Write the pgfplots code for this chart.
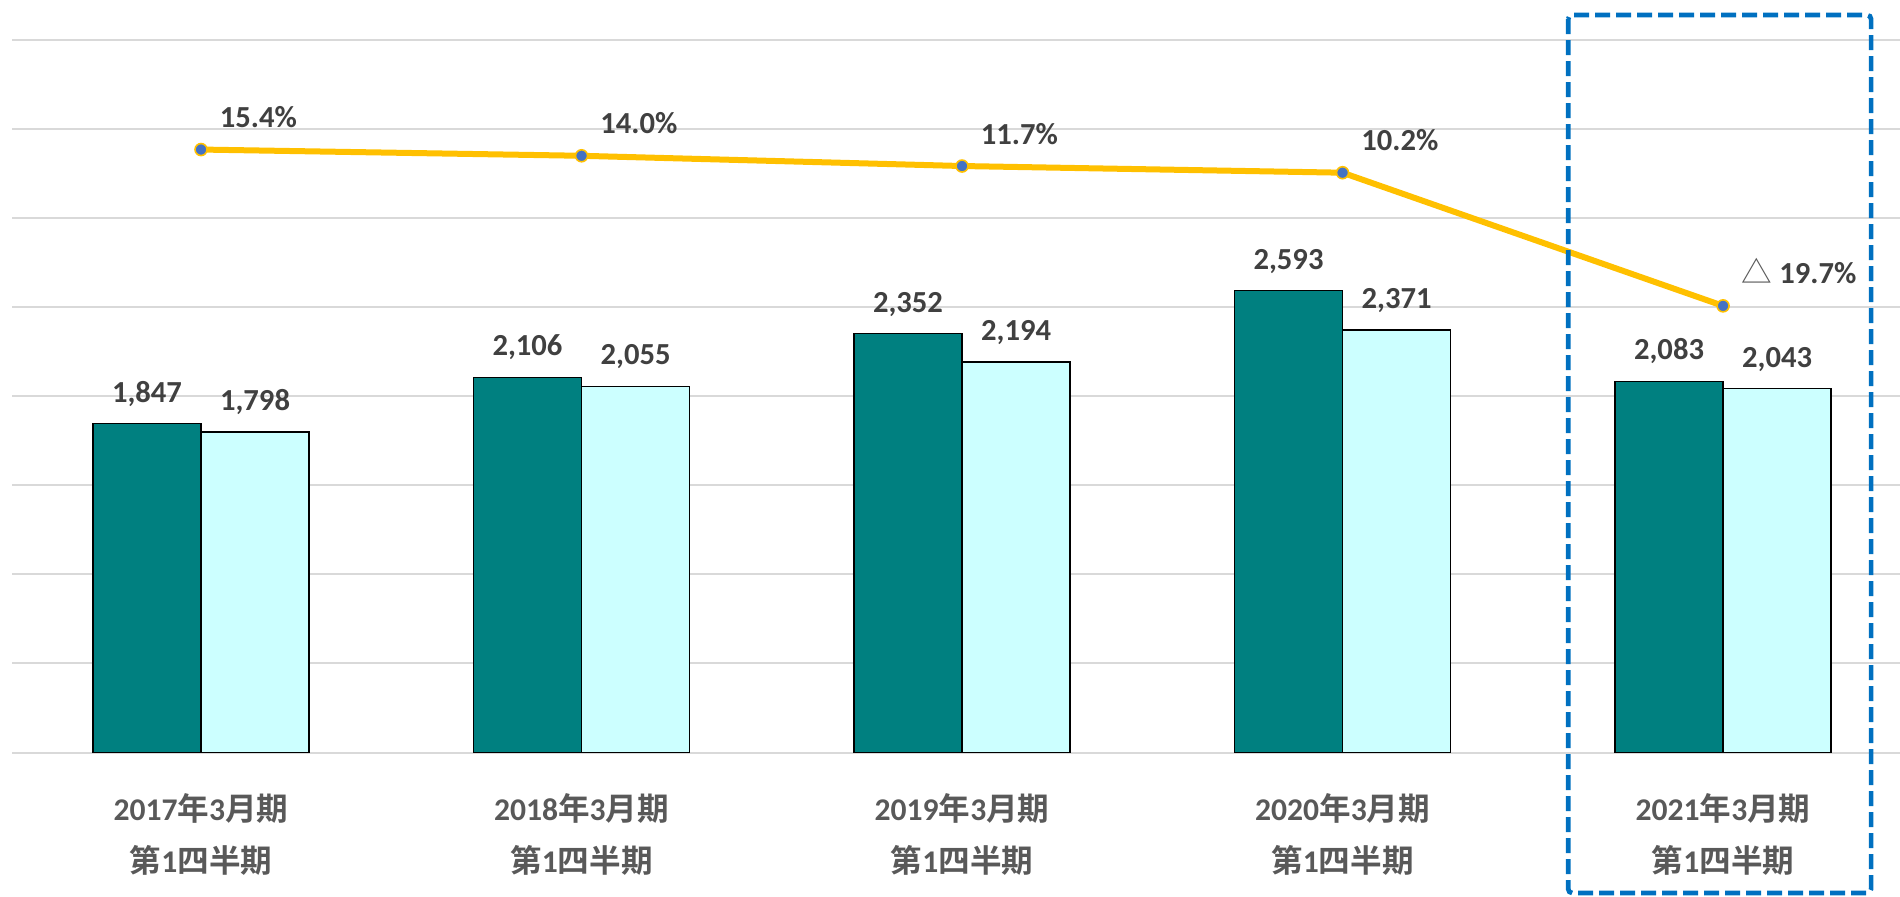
\documentclass[border=0pt]{standalone}
\usepackage{fontspec}
\setmainfont{Carlito}
\newfontfamily\cjk{Noto Sans CJK JP}[BoldFont={Noto Sans CJK JP Bold}]
\usepackage{pgfplots}
\pgfplotsset{compat=1.18}
\definecolor{barDark}{HTML}{008080}
\definecolor{barLight}{HTML}{CCFFFF}
\definecolor{gridgray}{HTML}{D9D9D9}
\definecolor{labelgray}{HTML}{595959}
\definecolor{datagray}{HTML}{404040}
\definecolor{lineYellow}{HTML}{FFC000}
\definecolor{markBlue}{HTML}{4472C4}
\definecolor{boxBlue}{HTML}{0070C0}
\newcommand{\cat}[1]{#1{\cjk 年}3{\cjk 月期}\\{\cjk 第}1{\cjk 四半期}}
\begin{document}
\begin{tikzpicture}
\useasboundingbox (-6pt,-71.75pt) rectangle (944pt,376.25pt);
\begin{axis}[
  scale only axis, width=944pt, height=356.25pt,
  xmin=-0.4967, xmax=4.465, ymin=0, ymax=4000,
  ybar=0pt, bar width=0.284,
  ytick={0,500,...,4000}, yticklabels={}, ymajorgrids,
  grid style={color=gridgray, line width=1pt},
  axis line style={draw=none}, tick style={draw=none},
  xtick={0,1,2,3,4},
  xticklabels={\cat{2017},\cat{2018},\cat{2019},\cat{2020},\cat{2021}},
  xticklabel style={font=\fontsize{15.8}{26}\selectfont\bfseries, text=labelgray, align=center, anchor=north, inner sep=0pt, yshift=-16pt},
  clip=false,
  nodes near coords, point meta=explicit symbolic,
  every node near coord/.append style={font=\fontsize{15.3}{18}\selectfont\bfseries, text=datagray, anchor=base, inner sep=0pt, yshift=10.75pt},
]
\addplot[fill=barDark, draw=black, line width=0.85pt]
  coordinates {(0,1847)[{1,847}] (1,2106)[{2,106}] (2,2352)[{2,352}] (3,2593)[{2,593}] (4,2083)[{2,083}]};
\addplot[fill=barLight, draw=black, line width=0.85pt]
  coordinates {(0,1798)[{1,798}] (1,2055)[{2,055}] (2,2194)[{2,194}] (3,2371)[{2,371}] (4,2043)[{2,043}]};
\end{axis}
\begin{axis}[
  scale only axis, width=944pt, height=356.25pt,
  xmin=-0.4967, xmax=4.465, ymin=-120, ymax=40,
  hide axis, clip=false,
  nodes near coords, point meta=explicit symbolic,
  every node near coord/.append style={font=\fontsize{15.3}{18}\selectfont\bfseries, text=datagray, anchor=base west, inner sep=0pt, xshift=9pt, yshift=11pt},
]
\addplot[color=lineYellow, line width=3pt, mark=*, mark size=3pt, mark options={fill=markBlue, draw=lineYellow, line width=0.8pt}]
  coordinates {(0,15.4)[15.4\%] (1,14.0)[14.0\%] (2,11.7)[11.7\%] (3,10.2)[10.2\%] (4,-19.7)[{{\cjk\mdseries\color{labelgray}△}\ 19.7\%}]};
\draw[boxBlue, line width=2.35pt, dash pattern=on 7.5pt off 3pt, rounded corners=2pt] (axis cs:3.593,45.6) rectangle (axis cs:4.389,-151.55);
\end{axis}
\end{tikzpicture}
\end{document}
